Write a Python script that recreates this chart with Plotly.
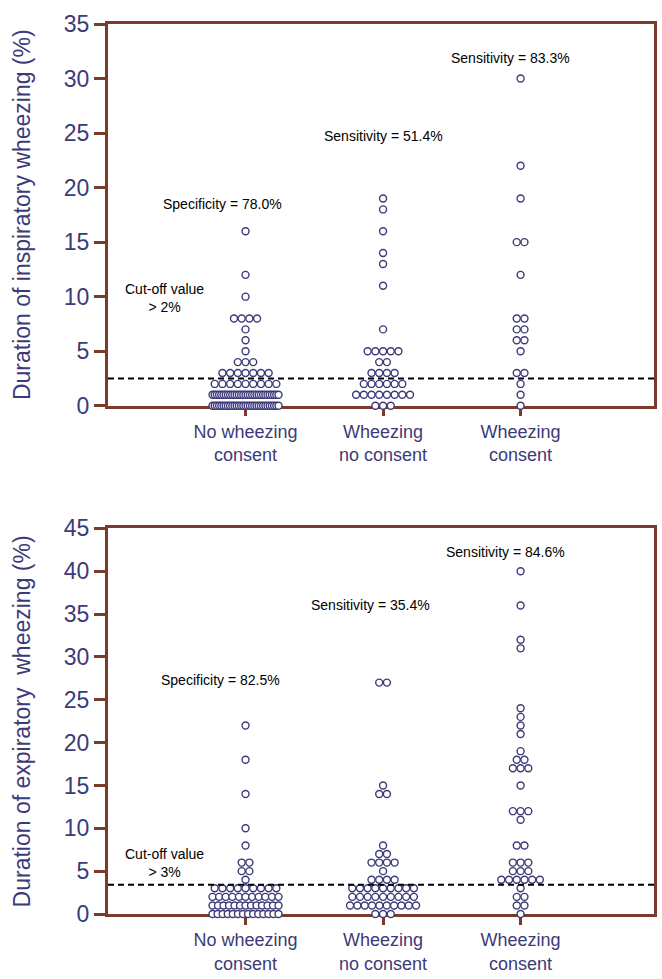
import plotly.graph_objects as go

# ---------------- data ----------------
groups = ["No wheezing<br>consent", "Wheezing<br>no consent", "Wheezing<br>consent"]
group_pos = [1, 2, 3]

# Inspiratory wheezing duration (%) : value -> number of subjects
insp_no_wheeze_values = [0, 1, 2, 3, 4, 5, 6, 7, 8, 10, 12, 16]
insp_no_wheeze_counts = [31, 31, 9, 7, 3, 1, 1, 1, 4, 1, 1, 1]
insp_wheeze_nocons_values = [0, 1, 2, 3, 4, 5, 7, 11, 13, 14, 16, 18, 19]
insp_wheeze_nocons_counts = [3, 8, 6, 4, 2, 5, 1, 1, 1, 1, 1, 1, 1]
insp_wheeze_cons_values = [0, 1, 2, 3, 5, 6, 7, 8, 12, 15, 19, 22, 30]
insp_wheeze_cons_counts = [1, 1, 1, 2, 1, 2, 2, 2, 1, 2, 1, 1, 1]

# Expiratory wheezing duration (%)
exp_no_wheeze_values = [0, 1, 2, 3, 4, 5, 6, 8, 10, 14, 18, 22]
exp_no_wheeze_counts = [14, 13, 11, 9, 1, 2, 2, 1, 1, 1, 1, 1]
exp_wheeze_nocons_values = [0, 1, 2, 3, 4, 5, 6, 7, 8, 14, 15, 27]
exp_wheeze_nocons_counts = [3, 10, 9, 9, 4, 1, 4, 2, 1, 2, 1, 2]
exp_wheeze_cons_values = [0, 1, 2, 3, 4, 5, 6, 8, 11, 12, 15, 17, 18, 19, 21, 22, 23, 24, 31, 32, 36, 40]
exp_wheeze_cons_counts = [1, 2, 2, 1, 6, 3, 3, 2, 1, 3, 1, 3, 2, 1, 1, 1, 1, 1, 1, 1, 1, 1]

insp_cutoff = 2.5
exp_cutoff = 3.4

insp_texts = ["Specificity = 78.0%", "Sensitivity = 51.4%", "Sensitivity = 83.3%"]
exp_texts = ["Specificity = 82.5%", "Sensitivity = 35.4%", "Sensitivity = 84.6%"]

# ---------------- styles ----------------
BROWN = "#7B3A2B"
NAVY = "#3C3A78"
FONT = "Liberation Sans, Arial, sans-serif"


def swarm(values, counts, center, d=0.056, maxw=0.48):
    xs, ys = [], []
    for v, n in zip(values, counts):
        s = d if n <= 1 else min(d, maxw / (n - 1))
        for i in range(n):
            xs.append(center + (i - (n - 1) / 2) * s)
            ys.append(v)
    return xs, ys


fig = go.Figure()

panels = [
    ("x", "y", [(insp_no_wheeze_values, insp_no_wheeze_counts),
                (insp_wheeze_nocons_values, insp_wheeze_nocons_counts),
                (insp_wheeze_cons_values, insp_wheeze_cons_counts)]),
    ("x2", "y2", [(exp_no_wheeze_values, exp_no_wheeze_counts),
                  (exp_wheeze_nocons_values, exp_wheeze_nocons_counts),
                  (exp_wheeze_cons_values, exp_wheeze_cons_counts)]),
]

for xa, ya, series in panels:
    for pos, (vals, cnts) in zip(group_pos, series):
        xs, ys = swarm(vals, cnts, pos)
        fig.add_trace(go.Scatter(
            x=xs, y=ys, mode="markers", xaxis=xa, yaxis=ya,
            marker=dict(symbol="circle", size=7, color="white",
                        line=dict(color=NAVY, width=1.4)),
            cliponaxis=False, showlegend=False, hoverinfo="y"))

# cut-off lines
fig.add_shape(type="line", xref="x", yref="y", x0=0, x1=3.97, y0=insp_cutoff, y1=insp_cutoff,
              line=dict(color="black", width=2, dash="6px,4px"))
fig.add_shape(type="line", xref="x2", yref="y2", x0=0, x1=3.97, y0=exp_cutoff, y1=exp_cutoff,
              line=dict(color="black", width=2, dash="6px,4px"))

# annotations
ann_font = dict(family=FONT, size=14, color="black")
insp_pos = [(0.83, 18.5), (2.0, 24.7), (2.93, 31.9)]
exp_pos = [(0.82, 27.3), (1.91, 36.0), (2.89, 42.2)]
for t, (ax, ay) in zip(insp_texts, insp_pos):
    fig.add_annotation(x=ax, y=ay, xref="x", yref="y", text=t, showarrow=False, font=ann_font)
for t, (ax, ay) in zip(exp_texts, exp_pos):
    fig.add_annotation(x=ax, y=ay, xref="x2", yref="y2", text=t, showarrow=False, font=ann_font)
fig.add_annotation(x=0.41, y=9.9, xref="x", yref="y", text="Cut-off value<br>> 2%",
                   showarrow=False, font=ann_font, align="center")
fig.add_annotation(x=0.41, y=6.0, xref="x2", yref="y2", text="Cut-off value<br>> 3%",
                   showarrow=False, font=ann_font, align="center")

# y titles
title_font = dict(family=FONT, size=23, color=NAVY)
fig.add_annotation(x=-0.157, y=0.7856, xref="paper", yref="paper",
                   text="Duration of inspiratory wheezing (%)", textangle=-90,
                   showarrow=False, font=title_font, xanchor="center", yanchor="middle")
fig.add_annotation(x=-0.157, y=0.2167, xref="paper", yref="paper",
                   text="Duration of expiratory\u00a0 wheezing (%)", textangle=-90,
                   showarrow=False, font=title_font, xanchor="center", yanchor="middle")

xaxis_common = dict(range=[0, 3.97], tickvals=group_pos, ticktext=groups,
                    showline=True, linecolor=BROWN, linewidth=2.5, mirror=True,
                    ticks="outside", ticklen=8, tickwidth=2.5, tickcolor=BROWN,
                    tickfont=dict(family=FONT, size=18, color=NAVY),
                    showgrid=False, zeroline=False, layer="below traces", fixedrange=True)
yaxis_common = dict(showline=True, linecolor=BROWN, linewidth=3, mirror=True,
                    ticks="outside", ticklen=11, tickwidth=3, tickcolor=BROWN, dtick=5,
                    tickfont=dict(family=FONT, size=23, color=NAVY),
                    showgrid=False, zeroline=False, layer="below traces", fixedrange=True)

fig.update_layout(
    width=662, height=979,
    margin=dict(l=108, r=5, t=24, b=48),
    paper_bgcolor="white", plot_bgcolor="white",
    showlegend=False,
    xaxis=dict(domain=[0, 1], anchor="y", **xaxis_common),
    yaxis=dict(domain=[0.5711, 1], anchor="x", range=[0, 35], **yaxis_common),
    xaxis2=dict(domain=[0, 1], anchor="y2", **xaxis_common),
    yaxis2=dict(domain=[0, 0.4333], anchor="x2", range=[0, 45], **yaxis_common),
)

# make the page exactly the size of the figure (no default body margin, no stray line boxes)
page_fix = (
    "var gd=document.getElementsByClassName('plotly-graph-div')[0];"
    "var w=gd.parentNode;"
    "w.style.height='979px';w.style.width='662px';w.style.overflow='hidden';w.style.fontSize='0px';"
    "document.body.style.margin='0px';document.body.style.padding='0px';"
    "document.body.style.height='979px';document.body.style.overflow='hidden';"
    "document.documentElement.style.height='979px';"
    "document.documentElement.style.overflow='hidden';"
)

fig.write_html("out.html", post_script=page_fix, config={"displayModeBar": False})
